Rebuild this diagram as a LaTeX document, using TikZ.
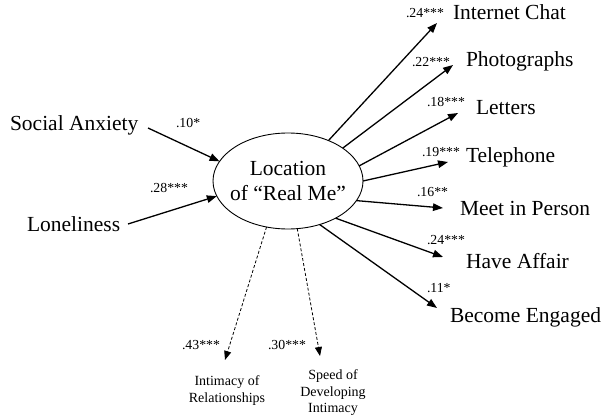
\documentclass[tikz,border=0pt]{standalone}
\usepackage{fontspec}
\setmainfont{Liberation Serif}
\usetikzlibrary{shapes.geometric,arrows.meta}
\begin{document}
\begin{tikzpicture}[x=1pt,y=-1pt,
  big/.style={font=\fontsize{21.5}{25}\selectfont, inner sep=0pt, outer sep=0pt},
  coef/.style={font=\fontsize{13.8}{16}\selectfont, inner sep=0pt, outer sep=0pt},
  small/.style={font=\fontsize{14}{16.5}\selectfont, inner sep=0pt, outer sep=0pt, align=center},
  path/.style={line width=1.3pt, -{Triangle[length=10pt,width=7.5pt]}},
  dpath/.style={line width=0.8pt, dash pattern=on 3pt off 2pt, -{Triangle[length=9pt,width=7pt]}}
]
\useasboundingbox (0,0) rectangle (601,419);
% central construct
\node[ellipse, draw, line width=0.9pt, minimum width=150pt, minimum height=96pt,
      inner xsep=-8pt, inner ysep=0pt, outer sep=0pt, align=center,
      font=\fontsize{21.5}{25}\selectfont] (ell) at (288,181) {Location\\of “Real Me”};
% predictors
\node[big, anchor=base west] (soc) at (10,131) {Social Anxiety};
\node[big, anchor=base west] (lon) at (27,232) {Loneliness};
\coordinate (socT) at (148,128);
\coordinate (lonT) at (128,224);
\draw[path] (socT) -- (ell.164);
\draw[path] (lonT) -- (ell.192);
\node[coef, anchor=base west] (c10) at (176,128) {.10*};
\node[coef, anchor=base west] (c28) at (150,193) {.28***};
% outcomes
\node[big, anchor=base west] (chat) at (453,20) {Internet Chat};
\node[big, anchor=base west] (photo) at (466,67) {Photographs};
\node[big, anchor=base west] (lett) at (476,115) {Letters};
\node[big, anchor=base west] (tele) at (466,163) {Telephone};
\node[big, anchor=base west] (meet) at (460,216) {Meet in Person};
\node[big, anchor=base west] (aff) at (466,268) {Have Affair};
\node[big, anchor=base west] (eng) at (450,322) {Become Engaged};
\coordinate (chatT) at (437,23);
\coordinate (photoT) at (453,65);
\coordinate (lettT) at (458,113);
\coordinate (teleT) at (448,162);
\coordinate (meetT) at (443,208);
\coordinate (affT) at (443,257);
\coordinate (engT) at (437,308);
\draw[path] (ell.45.7) -- (chatT);
\draw[path] (ell.31.4) -- (photoT);
\draw[path] (ell.12.9) -- (lettT);
\draw[path] (ell.0.8) -- (teleT);
\draw[path] (ell.-16.9) -- (meetT);
\draw[path] (ell.-38.2) -- (affT);
\draw[path] (ell.-54) -- (engT);
\node[coef, anchor=base west] (c24a) at (406,18) {.24***};
\node[coef, anchor=base west] (c22) at (412,67) {.22***};
\node[coef, anchor=base west] (c18) at (427,107) {.18***};
\node[coef, anchor=base west] (c19) at (422,157) {.19***};
\node[coef, anchor=base west] (c16) at (417,197) {.16**};
\node[coef, anchor=base west] (c24b) at (427,244) {.24***};
\node[coef, anchor=base west] (c11) at (427,292) {.11*};
% dashed outcomes
\coordinate (intT) at (225,360);
\coordinate (spdT) at (320,356);
\draw[dpath] (ell.245.4) -- (intT);
\draw[dpath] (ell.281.8) -- (spdT);
\node[coef, anchor=base west] (c43) at (182,349) {.43***};
\node[coef, anchor=base west] (c30) at (268,349) {.30***};
\node[small, anchor=north] (intim) at (227,376) {Intimacy of\\Relationships};
\node[small, anchor=north] (speed) at (333,370) {Speed of\\Developing\\Intimacy};
\end{tikzpicture}
\end{document}
